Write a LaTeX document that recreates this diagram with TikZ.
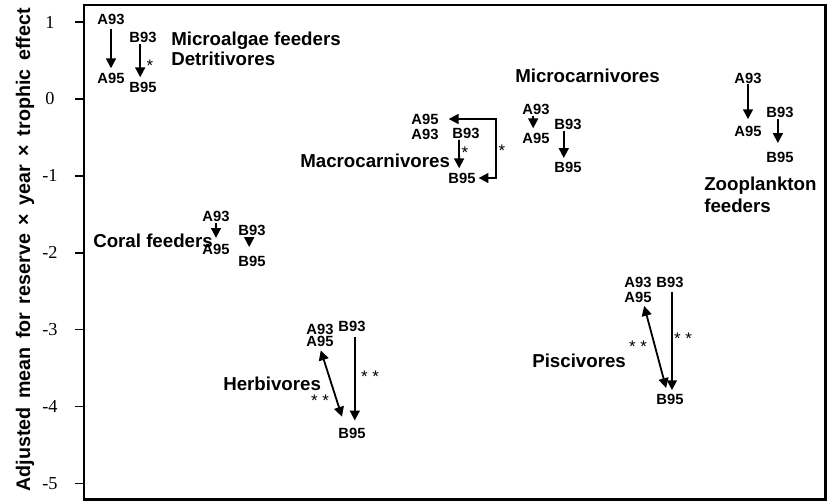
\documentclass[tikz,border=0pt]{standalone}
\usepackage{fontspec}
\setmainfont{Liberation Serif}
\setsansfont{Liberation Sans}
\usetikzlibrary{arrows.meta}

\tikzset{
  lab/.style={font=\sffamily\bfseries\fontsize{10.5}{12}\selectfont, inner sep=1pt},
  grp/.style={font=\sffamily\bfseries\fontsize{13.3}{15}\selectfont, inner sep=0pt, anchor=base west},
  sig/.style={font=\sffamily\fontsize{12}{14}\selectfont, inner sep=0pt, yshift=-2.8pt},
  tick/.style={font=\fontsize{13}{15}\selectfont, inner sep=0pt},
  arr/.style={-{Triangle[length=7pt,width=7pt]}, line width=1.3pt},
  dbl/.style={{Triangle[length=7pt,width=7pt]}-{Triangle[length=7pt,width=7pt]}, line width=1.3pt},
}

\begin{document}
\begin{tikzpicture}[x=0.025cm,y=-0.025cm]
  \useasboundingbox (0,0) rectangle (827,502);

  % frame and axis
  \draw[line width=1.6pt] (84,5) rectangle (825.5,499.5);
  \foreach \v in {1,0,-1,-2,-3,-4,-5}{
    \draw[line width=1pt] (75,{99-76.9*\v}) -- (84,{99-76.9*\v});
    \node[tick] at (50,{99-76.9*\v}) {\v};
  }
  \node[rotate=90, anchor=base, inner sep=0pt, font=\sffamily\bfseries\fontsize{14}{16}\selectfont] (ylab) at (30,250)
    {\makebox[12.08cm][s]{Adjusted mean for reserve × year × trophic effect}};

  % microalgae feeders, detritivores
  \node[lab] (maA93) at (111,19) {A93};
  \node[lab] (maA95) at (111,78) {A95};
  \node[lab] (maB93) at (143,37) {B93};
  \node[lab] (maB95) at (143,87) {B95};
  \draw[arr, shorten <=2pt, shorten >=2pt] (maA93) -- (maA95);
  \draw[arr, shorten >=2pt] ([xshift=-2pt]maB93.south) -- ([xshift=-2pt]maB95.north);
  \node[sig] at (150,62) {*};
  \node[grp] at (171,45) {Microalgae feeders};
  \node[grp] at (171,65) {Detritivores};

  % coral feeders
  \node[lab] (cfA93) at (216,216) {A93};
  \node[lab] (cfA95) at (216,249) {A95};
  \node[lab] (cfB93) at (252,230) {B93};
  \node[lab] (cfB95) at (252,261) {B95};
  \draw[arr, shorten >=3pt] (cfA93) -- (cfA95);
  \draw[arr, shorten >=5pt] ([xshift=-2pt]cfB93.south) -- ([xshift=-2pt]cfB95.north);
  \node[grp] at (93,247) {Coral feeders};

  % macrocarnivores
  \node[lab] (mcA95) at (425,119) {A95};
  \node[lab] (mcA93) at (425,134) {A93};
  \node[lab] (mcB93) at (466,133) {B93};
  \node[lab] (mcB95) at (462,178) {B95};
  \coordinate (mcR) at (496,147);
  \draw[arr, shorten >=2pt] ([xshift=-5pt]mcB93.south) -- ([xshift=-2pt]mcB95.north);
  \draw[dbl, shorten <=6pt, shorten >=1pt] (mcA95.east) -- (mcA95.east -| mcR) -- (mcB95.east -| mcR) -- (mcB95.east);
  \node[sig] at (465,149) {*};
  \node[sig] at (502,147) {*};
  \node[grp] at (300,167) {Macrocarnivores};

  % microcarnivores
  \node[lab] (miA93) at (536,109) {A93};
  \node[lab] (miA95) at (536,138) {A95};
  \node[lab] (miB93) at (568,124) {B93};
  \node[lab] (miB95) at (568,167) {B95};
  \draw[arr, shorten >=2pt] ([xshift=-2pt]miA93.south) -- ([xshift=-2pt]miA95.north);
  \draw[arr, shorten >=1.5pt] ([xshift=-3pt]miB93.south) -- ([xshift=-3pt]miB95.north);
  \node[grp] at (515,82) {Microcarnivores};

  % zooplankton feeders
  \node[lab] (zpA93) at (748,78) {A93};
  \node[lab] (zpA95) at (748,131) {A95};
  \node[lab] (zpB93) at (780,112) {B93};
  \node[lab] (zpB95) at (780,157) {B95};
  \draw[arr, shorten <=-1pt, shorten >=3.5pt] (zpA93) -- (zpA95);
  \draw[arr, shorten >=5pt] ([xshift=-1.5pt]zpB93.south) -- ([xshift=-1.5pt]zpB95.north);
  \node[grp] at (704,190) {Zooplankton};
  \node[grp] at (704,212) {feeders};

  % herbivores
  \node[lab] (hbA93) at (320,329) {A93};
  \node[lab] (hbA95) at (320,341) {A95};
  \node[lab] (hbB93) at (352,326) {B93};
  \node[lab] (hbB95) at (352,433) {B95};
  \draw[arr, shorten <=3pt, shorten >=4pt] ([xshift=2pt]hbB93.south) -- ([xshift=2pt]hbB95.north);
  \draw[dbl, shorten <=1.8pt, shorten >=7pt] (hbA95.south) -- ([xshift=-5pt]hbB95.north);
  \node[sig] at (370,373) {* *};
  \node[sig] at (320,397) {* *};
  \node[grp] at (223,390) {Herbivores};

  % piscivores
  \node[lab] (psA93) at (638,282) {A93};
  \node[lab] (psA95) at (638,297) {A95};
  \node[lab] (psB93) at (670,282) {B93};
  \node[lab] (psB95) at (670,399) {B95};
  \draw[arr, shorten <=2pt, shorten >=1.4pt] ([xshift=1.4pt]psB93.south) -- ([xshift=1.4pt]psB95.north);
  \draw[dbl, shorten <=1.5pt, shorten >=3pt] ([xshift=4pt]psA95.south) -- ([xshift=-2pt]psB95.north);
  \node[sig] at (683,335) {* *};
  \node[sig] at (638,343) {* *};
  \node[grp] at (532,367) {Piscivores};
\end{tikzpicture}
\end{document}
